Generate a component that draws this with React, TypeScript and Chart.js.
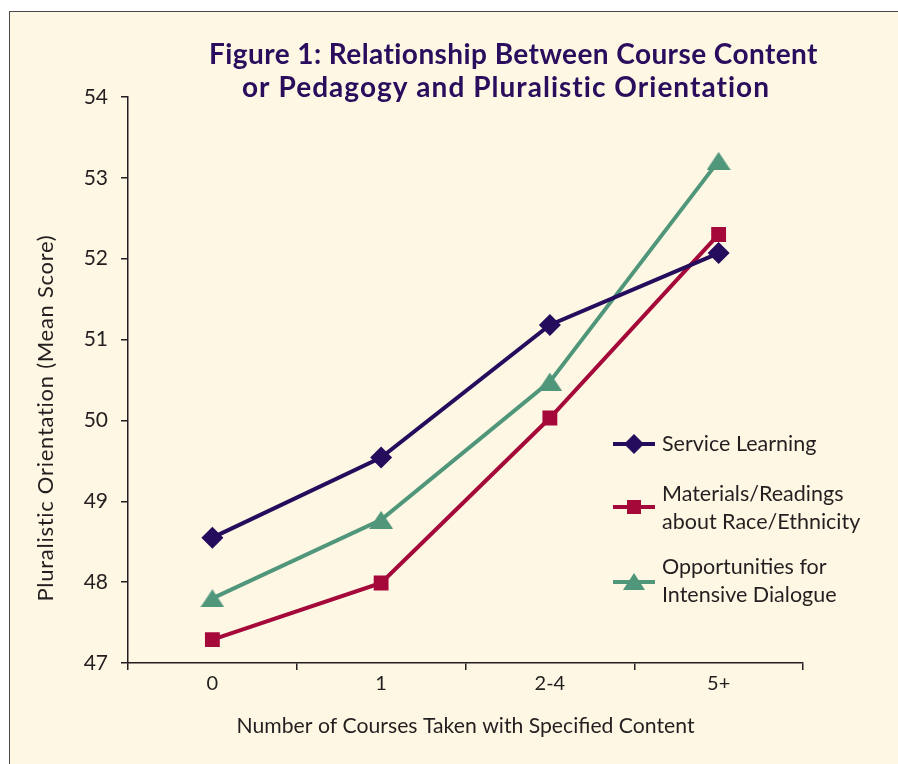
import React, { useEffect, useRef } from "react";
import { Chart, registerables } from "chart.js";

Chart.register(...registerables);

const categories = ["0", "1", "2-4", "5+"];
const serviceLearning = [48.55, 49.54, 51.18, 52.07];
const materialsReadings = [47.29, 47.99, 50.03, 52.3];
const intensiveDialogue = [47.8, 48.77, 50.48, 53.21];
const yTicks = [47, 48, 49, 50, 51, 52, 53, 54];

const seriesNames = ["Service Learning", "Materials/Readings\nabout Race/Ethnicity", "Opportunities for\nIntensive Dialogue"];
const titleLines = ["Figure 1: Relationship Between Course Content", "or Pedagogy and Pluralistic Orientation"];
const xTitle = "Number of Courses Taken with Specified Content";
const yTitle = "Pluralistic Orientation (Mean Score)";

const NAVY = "#260c5c";
const RED = "#a4093a";
const GREEN = "#4f967b";
const TEXT = "#231f20";
const TITLE = "#2a0d5c";
const FONT = "Lato, 'Open Sans', sans-serif";

function makeTriangle(color: string, w: number, h: number) {
  const c = document.createElement("canvas");
  c.width = w;
  c.height = h;
  const g = c.getContext("2d")!;
  g.fillStyle = color;
  g.beginPath();
  g.moveTo(w / 2, 0);
  g.lineTo(w, h);
  g.lineTo(0, h);
  g.closePath();
  g.fill();
  return c;
}

function drawDiamond(ctx: CanvasRenderingContext2D, x: number, y: number, r: number, color: string) {
  ctx.fillStyle = color;
  ctx.beginPath();
  ctx.moveTo(x, y - r);
  ctx.lineTo(x + r, y);
  ctx.lineTo(x, y + r);
  ctx.lineTo(x - r, y);
  ctx.closePath();
  ctx.fill();
}

// draw text spread to a target width via letter spacing
function fitText(ctx: any, text: string, x: number, y: number, target: number) {
  ctx.letterSpacing = "0px";
  const w = ctx.measureText(text).width;
  const ls = (target - w) / Math.max(1, text.length - 1);
  ctx.letterSpacing = `${ls}px`;
  const prevAlign = ctx.textAlign;
  ctx.textAlign = "left";
  ctx.fillText(text, x - target / 2, y);
  ctx.textAlign = prevAlign;
  ctx.letterSpacing = "0px";
}

const decorPlugin = {
  id: "decor",
  afterDraw(chart: any) {
    const ctx: CanvasRenderingContext2D = chart.ctx;
    ctx.save();
    // title
    ctx.fillStyle = TITLE;
    ctx.font = `bold 28px ${FONT}`;
    ctx.textBaseline = "alphabetic";
    fitText(ctx, titleLines[0], 513.5, 64, 609);
    fitText(ctx, titleLines[1], 506, 97, 528);

    // y axis title
    ctx.save();
    ctx.translate(46, 418);
    ctx.rotate(-Math.PI / 2);
    ctx.fillStyle = TEXT;
    ctx.font = `22px ${FONT}`;
    ctx.textBaseline = "middle";
    fitText(ctx, yTitle, 0, 0, 367);
    ctx.restore();

    // legend
    const rows = [
      { y: 444, color: NAVY, kind: "diamond" },
      { y: 507, color: RED, kind: "square" },
      { y: 582, color: GREEN, kind: "triangle" },
    ];
    const textY = [[444], [494, 522], [567, 595]];
    rows.forEach((row, i) => {
      ctx.strokeStyle = row.color;
      ctx.lineWidth = 4;
      ctx.beginPath();
      ctx.moveTo(613, row.y);
      ctx.lineTo(655, row.y);
      ctx.stroke();
      if (row.kind === "diamond") drawDiamond(ctx, 634, row.y, 10, row.color);
      else if (row.kind === "square") {
        ctx.fillStyle = row.color;
        ctx.fillRect(627, row.y - 7, 14, 14);
      } else {
        ctx.fillStyle = row.color;
        ctx.beginPath();
        ctx.moveTo(634, row.y - 9);
        ctx.lineTo(645, row.y + 8);
        ctx.lineTo(623, row.y + 8);
        ctx.closePath();
        ctx.fill();
      }
      ctx.fillStyle = TEXT;
      ctx.font = `21.5px ${FONT}`;
      ctx.textAlign = "left";
      ctx.textBaseline = "middle";
      seriesNames[i].split("\n").forEach((t, j) => ctx.fillText(t, 662, textY[i][j]));
    });
    ctx.restore();
  },
};

export default function App() {
  const ref = useRef<HTMLCanvasElement>(null);
  useEffect(() => {
    const tri = makeTriangle(GREEN, 24, 18);
    const chart = new Chart(ref.current!, {
      type: "line",
      data: {
        labels: categories,
        datasets: [
          {
            label: seriesNames[0],
            data: serviceLearning,
            borderColor: NAVY,
            backgroundColor: NAVY,
            borderWidth: 4,
            pointStyle: "rectRot",
            pointRadius: 11,
            pointBorderWidth: 0,
            tension: 0,
          },
          {
            label: seriesNames[1],
            data: materialsReadings,
            borderColor: RED,
            backgroundColor: RED,
            borderWidth: 4,
            pointStyle: "rect",
            pointRadius: 10.5,
            pointBorderWidth: 0,
            tension: 0,
          },
          {
            label: seriesNames[2],
            data: intensiveDialogue,
            borderColor: GREEN,
            backgroundColor: GREEN,
            borderWidth: 4,
            pointStyle: tri as any,
            pointRadius: 12,
            pointBorderWidth: 0,
            tension: 0,
          },
        ],
      },
      options: {
        animation: false,
        responsive: false,
        devicePixelRatio: 1,
        layout: { padding: { top: 97, right: 95, left: 0, bottom: 0 } },
        plugins: { legend: { display: false }, title: { display: false }, tooltip: { enabled: false } },
        scales: {
          x: {
            type: "category",
            offset: true,
            grid: { offset: true, drawOnChartArea: false, drawTicks: true, tickLength: 7, color: TEXT, lineWidth: 1.5 },
            border: { display: true, color: TEXT, width: 1.5 },
            ticks: { color: TEXT, font: { family: FONT, size: 20 }, padding: 2 },
            title: { display: true, text: xTitle, color: TEXT, font: { family: FONT, size: 21.2 }, padding: { top: 0, bottom: 25 } },
            afterFit: (s: any) => { s.height = 101; },
          },
          y: {
            min: yTicks[0],
            max: yTicks[yTicks.length - 1],
            afterBuildTicks: (s: any) => { s.ticks = yTicks.map((v) => ({ value: v })); },
            grid: { drawOnChartArea: false, drawTicks: true, tickLength: 7, color: TEXT, lineWidth: 1.5 },
            border: { display: true, color: TEXT, width: 1.5 },
            ticks: { color: TEXT, font: { family: FONT, size: 21 }, padding: 13 },
            afterFit: (s: any) => { s.width = 128; },
          },
        },
      },
      plugins: [decorPlugin],
    });
    return () => chart.destroy();
  }, []);

  return (
    <div style={{ position: "fixed", left: 0, top: 0, width: 898, height: 764, background: "#ffffff", overflow: "hidden" }}>
      <div
        style={{
          position: "absolute",
          left: 9,
          top: 11,
          width: 920,
          height: 800,
          background: "#fef7e3",
          border: "1.5px solid #4a4a4a",
        }}
      />
      <canvas ref={ref} width={898} height={764} style={{ position: "absolute", left: 0, top: 0, width: 898, height: 764 }} />
    </div>
  );
}
